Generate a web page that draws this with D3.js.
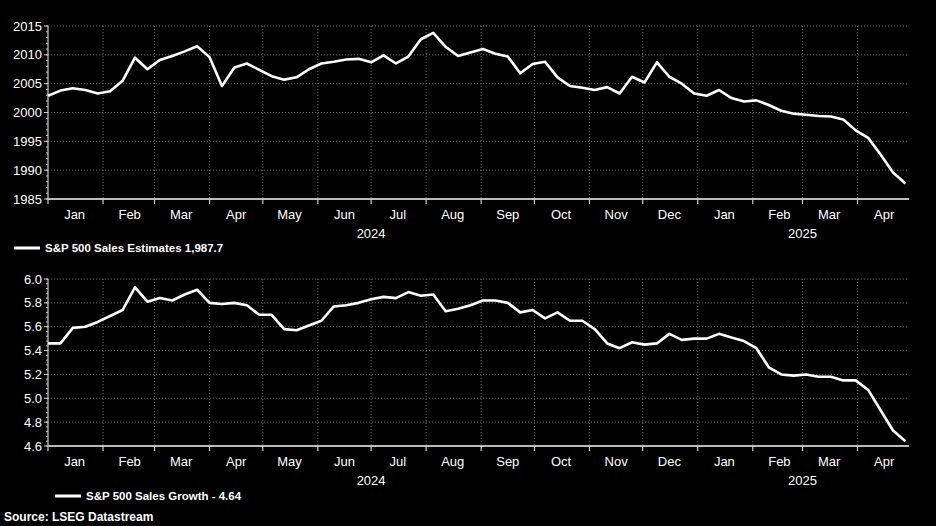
<!DOCTYPE html>
<html><head><meta charset="utf-8">
<script src="https://cdn.jsdelivr.net/npm/d3@7"></script>
<style>body{margin:0;background:#000}svg{display:block;font-family:"Liberation Sans",Arial,sans-serif}</style>
</head><body><svg id="c" width="936" height="526"></svg>
<script>
const startDate = "2024-01-01";
const salesEstimates = [2002.9,2003.8,2004.2,2003.9,2003.3,2003.7,2005.5,2009.5,2007.5,2009.1,2009.8,2010.6,2011.5,2009.6,2004.6,2007.8,2008.5,2007.4,2006.3,2005.7,2006.1,2007.5,2008.5,2008.8,2009.2,2009.3,2008.7,2009.9,2008.5,2009.7,2012.7,2013.8,2011.4,2009.8,2010.4,2011.0,2010.2,2009.7,2006.8,2008.4,2008.8,2006.1,2004.6,2004.3,2003.9,2004.4,2003.3,2006.2,2005.2,2008.7,2006.2,2005.0,2003.3,2002.9,2003.9,2002.5,2001.9,2002.1,2001.3,2000.3,1999.8,1999.6,1999.4,1999.3,1998.8,1996.9,1995.6,1992.7,1989.6,1987.7];
const salesGrowth = [5.46,5.46,5.59,5.60,5.64,5.69,5.74,5.93,5.81,5.84,5.82,5.87,5.91,5.80,5.79,5.80,5.78,5.70,5.70,5.58,5.57,5.61,5.65,5.77,5.78,5.80,5.83,5.85,5.84,5.89,5.86,5.87,5.73,5.75,5.78,5.82,5.82,5.80,5.72,5.74,5.67,5.72,5.65,5.65,5.58,5.46,5.42,5.47,5.45,5.46,5.54,5.49,5.50,5.50,5.54,5.51,5.48,5.42,5.26,5.20,5.19,5.20,5.18,5.18,5.15,5.15,5.07,4.90,4.73,4.64];
const topTicks = [1985,1990,1995,2000,2005,2010,2015];
const bottomTicks = [4.6,4.8,5.0,5.2,5.4,5.6,5.8,6.0];
const monthLabels = ["Jan","Feb","Mar","Apr","May","Jun","Jul","Aug","Sep","Oct","Nov","Dec","Jan","Feb","Mar","Apr"];
const yearLabels = [["2024","2024-07-01"],["2025","2025-03-01"]];
const legendTop = "S&P 500 Sales Estimates 1,987.7";
const legendBottom = "S&P 500 Sales Growth - 4.64";
const source = "Source: LSEG Datastream";

const svg = d3.select("#c");
const t0 = new Date(startDate+"T00:00:00");
const dates = salesEstimates.map((_, i) => d3.timeDay.offset(t0, i*7));
const x = d3.scaleTime().domain([t0, new Date("2025-04-30T00:00:00")]).range([48, 909]);
const monthStarts = d3.timeMonth.range(t0, new Date("2025-05-01T00:00:00"));

function panel(vals, ticks, y0, y1, fmt, minorStep, lab, legend, legX){
  const y = d3.scaleLinear().domain([ticks[0], ticks[ticks.length-1]]).range([y1, y0]);
  const g = svg.append("g");
  g.selectAll(".hg").data(ticks.slice(1)).join("line").attr("x1",48).attr("x2",909)
    .attr("y1",d=>y(d)).attr("y2",d=>y(d)).attr("stroke","#666").attr("stroke-dasharray","1,2");
  g.selectAll(".vg").data(monthStarts.slice(1)).join("line").attr("x1",d=>x(d)).attr("x2",d=>x(d))
    .attr("y1",y0).attr("y2",y1).attr("stroke","#666").attr("stroke-dasharray","1,2");
  g.append("line").attr("x1",48).attr("x2",48).attr("y1",y0).attr("y2",y1).attr("stroke","#ccc").attr("stroke-width",1.2);
  const minor = d3.range(ticks[0], ticks[ticks.length-1]+1e-9, minorStep);
  g.selectAll(".mt").data(minor).join("line").attr("x1",46).attr("x2",48).attr("y1",d=>y(d)).attr("y2",d=>y(d)).attr("stroke","#ccc");
  g.selectAll(".mj").data(ticks).join("line").attr("x1",44).attr("x2",48).attr("y1",d=>y(d)).attr("y2",d=>y(d)).attr("stroke","#ccc");
  g.selectAll(".yl").data(ticks).join("text").attr("x",42).attr("y",d=>y(d)+4.5).attr("text-anchor","end")
    .attr("fill","#fff").attr("font-size",13).text(fmt);
  g.append("line").attr("x1",48).attr("x2",909).attr("y1",y1).attr("y2",y1).attr("stroke","#bbb").attr("stroke-width",2);
  g.selectAll(".xt").data(monthStarts).join("line").attr("x1",d=>x(d)).attr("x2",d=>x(d)).attr("y1",y1).attr("y2",y1+5).attr("stroke","#ccc").attr("stroke-width",1.2);
  g.selectAll(".xl").data(monthStarts).join("text").attr("x",d=>x(d3.timeDay.offset(d,15))).attr("y",y1+20)
    .attr("text-anchor","middle").attr("fill","#fff").attr("font-size",13).text((d,i)=>monthLabels[i]);
  g.selectAll(".yr").data(yearLabels).join("text").attr("x",d=>x(new Date(d[1]+"T00:00:00"))).attr("y",y1+39)
    .attr("text-anchor","middle").attr("fill","#fff").attr("font-size",13).text(d=>d[0]);
  g.append("path").datum(vals).attr("fill","none").attr("stroke","#fff").attr("stroke-width",2.6).attr("stroke-linejoin","round")
    .attr("d", d3.line().x((d,i)=>x(dates[i])).y(d=>y(d)));
  g.append("line").attr("x1",legX).attr("x2",legX+26).attr("y1",lab).attr("y2",lab).attr("stroke","#fff").attr("stroke-width",3);
  g.append("text").attr("x",legX+31).attr("y",lab+4).attr("fill","#fff").attr("font-size",11.5).attr("font-weight","bold").text(legend);
}
panel(salesEstimates, topTicks, 26, 199, d=>d, 1, 248, legendTop, 14);
panel(salesGrowth, bottomTicks, 279, 446, d=>d.toFixed(1), 0.04, 496, legendBottom, 55);
svg.append("text").attr("x",4).attr("y",521).attr("fill","#fff").attr("font-size",12).attr("font-weight","bold").text(source);
</script></body></html>
